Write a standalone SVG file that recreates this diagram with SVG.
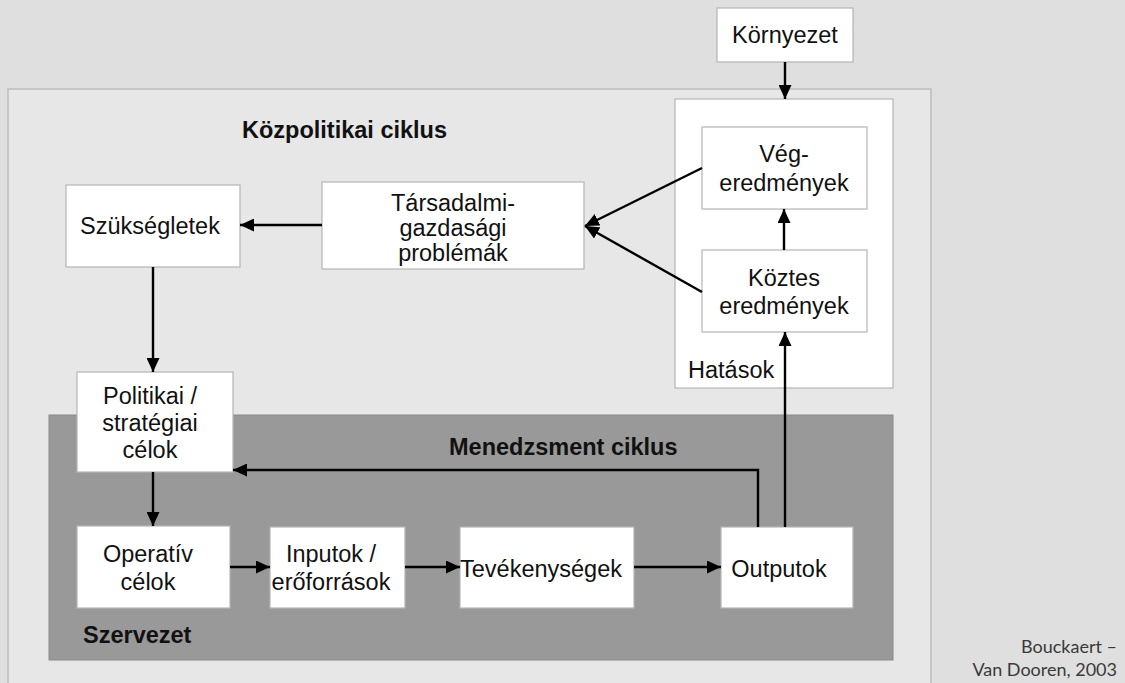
<svg xmlns="http://www.w3.org/2000/svg" width="1125" height="683" viewBox="0 0 1125 683">
<style>
.box{fill:#ffffff;stroke:#b5b5b5;stroke-width:1.2}
.t{font-family:"Liberation Sans",Arial,sans-serif;font-size:23.5px;fill:#111;text-anchor:middle}
.tl{font-family:"Liberation Sans",Arial,sans-serif;font-size:23.5px;fill:#111}
.b{font-family:"Liberation Sans",Arial,sans-serif;font-size:23.5px;font-weight:bold;fill:#111}
.c{stroke:#000;stroke-width:2.4;fill:none}
.cap{font-family:Lato,"Open Sans",sans-serif;font-size:18px;fill:#3a3a3a;text-anchor:end}
</style>
<defs>
<marker id="ah" markerUnits="userSpaceOnUse" markerWidth="14" markerHeight="13" refX="14" refY="6.5" orient="auto">
<path d="M0,0 L14,6.5 L0,13 z" fill="#000"/>
</marker>
</defs>
<rect x="0" y="0" width="1125" height="683" fill="#dfdfdf"/>
<g id="kozpolitikai">
<rect x="8" y="89" width="923" height="620" fill="#e7e7e7" stroke="#bdbdbd" stroke-width="1.5"/>
<text class="b" x="242" y="138">Közpolitikai ciklus</text>
</g>
<g id="hatasok">
<rect class="box" x="675" y="99" width="218" height="289"/>
<text class="tl" x="688" y="378">Hatások</text>
</g>
<g id="menedzsment">
<rect x="49" y="415" width="844" height="245" fill="#999999" stroke="#8a8a8a" stroke-width="1"/>
<text class="b" x="449" y="455">Menedzsment ciklus</text>
<text class="b" x="83" y="643">Szervezet</text>
</g>
<g id="kornyezet">
<rect class="box" x="717" y="8" width="136" height="54"/>
<text class="t" x="785" y="43">Környezet</text>
</g>
<g id="veg">
<rect class="box" x="702" y="127" width="165" height="82"/>
<text class="t" x="784" y="162">Vég-</text>
<text class="t" x="784" y="191">eredmények</text>
</g>
<g id="koztes">
<rect class="box" x="702" y="250" width="165" height="82"/>
<text class="t" x="784" y="286">Köztes</text>
<text class="t" x="784" y="314">eredmények</text>
</g>
<g id="tarsadalmi">
<rect class="box" x="322" y="182" width="262" height="87"/>
<text class="t" x="453" y="211">Társadalmi-</text>
<text class="t" x="453" y="236">gazdasági</text>
<text class="t" x="453" y="261">problémák</text>
</g>
<g id="szuksegletek">
<rect class="box" x="66" y="185" width="174" height="82"/>
<text class="t" x="150" y="234">Szükségletek</text>
</g>
<g id="politikai">
<rect class="box" x="77" y="372" width="156" height="100"/>
<text class="t" x="150" y="404">Politikai /</text>
<text class="t" x="150" y="431">stratégiai</text>
<text class="t" x="150" y="458">célok</text>
</g>
<g id="operativ">
<rect class="box" x="77" y="526" width="153" height="82"/>
<text class="t" x="148" y="562">Operatív</text>
<text class="t" x="148" y="590">célok</text>
</g>
<g id="inputok">
<rect class="box" x="270" y="527" width="135" height="81"/>
<text class="t" x="331" y="562">Inputok /</text>
<text class="t" x="331" y="590">erőforrások</text>
</g>
<g id="tevekenysegek">
<rect class="box" x="460" y="527" width="174" height="81"/>
<text class="t" x="541" y="577">Tevékenységek</text>
</g>
<g id="outputok">
<rect class="box" x="721" y="527" width="132" height="81"/>
<text class="t" x="779" y="577">Outputok</text>
</g>
<g id="connectors">
<line class="c" x1="785" y1="62" x2="785" y2="99" marker-end="url(#ah)"/>
<line class="c" x1="784" y1="250" x2="784" y2="209" marker-end="url(#ah)"/>
<line class="c" x1="785" y1="527" x2="785" y2="332" marker-end="url(#ah)"/>
<line class="c" stroke-width="2" x1="702" y1="168" x2="585" y2="226" marker-end="url(#ah)"/>
<line class="c" stroke-width="2" x1="702" y1="292" x2="585" y2="226" marker-end="url(#ah)"/>
<line class="c" x1="322" y1="225" x2="240" y2="225" marker-end="url(#ah)"/>
<line class="c" x1="153" y1="267" x2="153" y2="372" marker-end="url(#ah)"/>
<line class="c" x1="153" y1="472" x2="153" y2="526" marker-end="url(#ah)"/>
<line class="c" x1="230" y1="567" x2="270" y2="567" marker-end="url(#ah)"/>
<line class="c" x1="405" y1="567" x2="460" y2="567" marker-end="url(#ah)"/>
<line class="c" x1="634" y1="567" x2="721" y2="567" marker-end="url(#ah)"/>
<polyline class="c" stroke-width="2" points="758,527 758,470 233,470" marker-end="url(#ah)"/>
</g>
<g id="caption">
<text class="cap" x="1117" y="653">Bouckaert –</text>
<text class="cap" x="1117" y="676">Van Dooren, 2003</text>
</g>
</svg>
